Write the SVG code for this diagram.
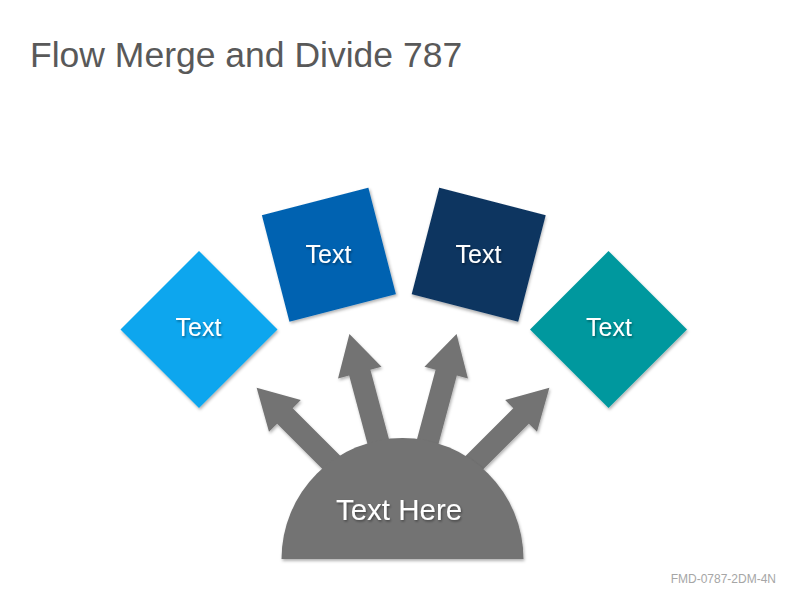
<svg xmlns="http://www.w3.org/2000/svg" width="800" height="600" viewBox="0 0 800 600">
  <defs>
    <filter id="shadow" x="-20%" y="-20%" width="140%" height="140%">
      <feDropShadow dx="1" dy="2" stdDeviation="1.5" flood-color="#000" flood-opacity="0.3"/>
    </filter>
    <filter id="tshadow" x="-20%" y="-30%" width="140%" height="160%">
      <feDropShadow dx="1" dy="1.5" stdDeviation="1" flood-color="#000" flood-opacity="0.4"/>
    </filter>
    <polygon id="arrow" points="-11,0 -11,-167 -22.5,-167 0,-207 22.5,-167 11,-167 11,0"/>
  </defs>
  <style>
    .lbl { font-family: "Liberation Sans", Arial, sans-serif; fill: #FFFFFF; text-anchor: middle; filter: url(#tshadow); }
    .gray { fill: #737373; }
  </style>
  <rect width="800" height="600" fill="#FFFFFF"/>
  <text x="30" y="67" font-family="Liberation Sans, Arial, sans-serif" font-size="35.5" fill="#595959">Flow Merge and Divide 787</text>

  <g id="connectors" class="gray" filter="url(#shadow)">
    <use href="#arrow" transform="translate(403,534) rotate(-45)"/>
    <use href="#arrow" transform="translate(403,534) rotate(-15)"/>
    <use href="#arrow" transform="translate(403,534) rotate(15)"/>
    <use href="#arrow" transform="translate(403,534) rotate(45)"/>
  </g>

  <g id="hub">
    <path class="gray" filter="url(#shadow)" d="M 281.5 559 A 121 121 0 0 1 523.5 559 Z"/>
    <text class="lbl" x="399" y="520" font-size="29.5">Text Here</text>
  </g>

  <g id="node1">
    <polygon points="199,251 277.5,329.5 199,408 120.5,329.5" fill="#0BA6EE" filter="url(#shadow)"/>
    <text class="lbl" x="198.5" y="336" font-size="25">Text</text>
  </g>

  <g id="node2">
    <rect x="-55" y="-55" width="110" height="110" fill="#0562B1" filter="url(#shadow)" transform="translate(328.9,254.7) rotate(-14.5)"/>
    <text class="lbl" x="328.5" y="263" font-size="25">Text</text>
  </g>

  <g id="node3">
    <rect x="-55" y="-55" width="110" height="110" fill="#0B3461" filter="url(#shadow)" transform="translate(478.7,254.7) rotate(14.5)"/>
    <text class="lbl" x="478.5" y="263" font-size="25">Text</text>
  </g>

  <g id="node4">
    <polygon points="608.5,251 687,329.5 608.5,408 530,329.5" fill="#03989E" filter="url(#shadow)"/>
    <text class="lbl" x="609" y="336" font-size="25">Text</text>
  </g>

  <text x="776" y="583" font-family="Liberation Sans, Arial, sans-serif" font-size="12" fill="#A6A6A6" text-anchor="end">FMD-0787-2DM-4N</text>
</svg>
